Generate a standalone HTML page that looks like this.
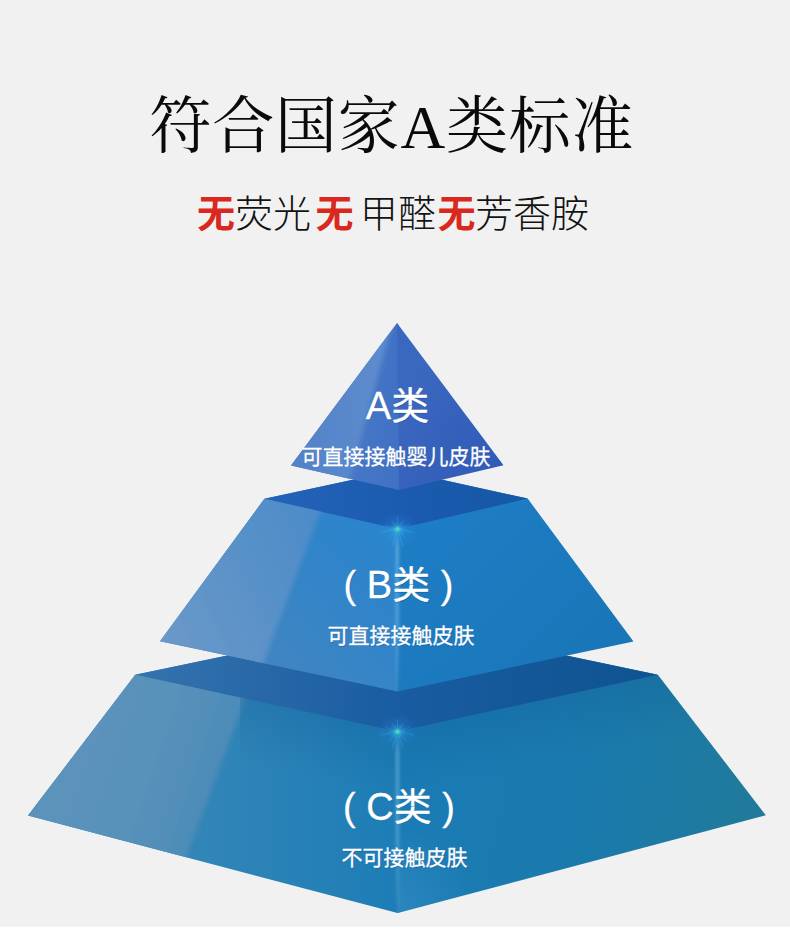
<!DOCTYPE html>
<html lang="zh"><head><meta charset="utf-8"><title>A类标准</title>
<style>
html,body{margin:0;padding:0;background:#f1f1f1;font-family:"Liberation Sans",sans-serif;}
body{width:790px;height:932px;overflow:hidden;position:relative;}
svg{display:block;position:absolute;left:0;top:0;}
</style></head><body>
<svg width="790" height="932" viewBox="0 0 790 932">
<defs>
<linearGradient id="a1" gradientUnits="userSpaceOnUse" x1="350" y1="0" x2="399" y2="0"><stop offset="0" stop-color="#4877c6"/><stop offset="1" stop-color="#4071c4"/></linearGradient>
<linearGradient id="a2" gradientUnits="userSpaceOnUse" x1="398" y1="400" x2="503" y2="465"><stop offset="0" stop-color="#3b68bf"/><stop offset="1" stop-color="#305ab7"/></linearGradient>
<linearGradient id="b0" gradientUnits="userSpaceOnUse" x1="264" y1="499" x2="528" y2="499"><stop offset="0" stop-color="#2463b8"/><stop offset="0.5" stop-color="#1b5bb0"/><stop offset="1" stop-color="#1757a6"/></linearGradient>
<linearGradient id="b1" gradientUnits="userSpaceOnUse" x1="265" y1="660" x2="398" y2="540"><stop offset="0" stop-color="#4185c1"/><stop offset="0.55" stop-color="#3284c8"/><stop offset="1" stop-color="#2a85cd"/></linearGradient>
<linearGradient id="b2" gradientUnits="userSpaceOnUse" x1="398" y1="520" x2="560" y2="690"><stop offset="0" stop-color="#1e7ec6"/><stop offset="1" stop-color="#1976b8"/></linearGradient>
<linearGradient id="c0" gradientUnits="userSpaceOnUse" x1="135" y1="675" x2="658" y2="675"><stop offset="0" stop-color="#3673ae"/><stop offset="0.5" stop-color="#195ca1"/><stop offset="1" stop-color="#0f5390"/></linearGradient>
<linearGradient id="c1" gradientUnits="userSpaceOnUse" x1="200" y1="0" x2="398" y2="0"><stop offset="0" stop-color="#3285b7"/><stop offset="1" stop-color="#1d7db6"/></linearGradient>
<linearGradient id="c2" gradientUnits="userSpaceOnUse" x1="398" y1="740" x2="766" y2="815"><stop offset="0" stop-color="#1a7cb6"/><stop offset="0.55" stop-color="#1b7aac"/><stop offset="1" stop-color="#207a99"/></linearGradient>
<linearGradient id="s1" gradientUnits="userSpaceOnUse" x1="300" y1="0" x2="375" y2="0"><stop offset="0" stop-color="#5382c9"/><stop offset="1" stop-color="#5d8bcd"/></linearGradient>
<linearGradient id="s2" gradientUnits="userSpaceOnUse" x1="165" y1="640" x2="330" y2="560"><stop offset="0" stop-color="#6a98c8"/><stop offset="0.5" stop-color="#5b92c8"/><stop offset="1" stop-color="#4e8cc9"/></linearGradient>
<linearGradient id="s3" gradientUnits="userSpaceOnUse" x1="60" y1="740" x2="220.5" y2="796"><stop offset="0" stop-color="#5c93bb"/><stop offset="0.55" stop-color="#5891ba"/><stop offset="1" stop-color="#4b8bb8"/></linearGradient>
<linearGradient id="ao1" gradientUnits="userSpaceOnUse" x1="266" y1="703" x2="252.3" y2="766"><stop offset="0" stop-color="#0a4c86" stop-opacity=".2"/><stop offset="1" stop-color="#0a4c86" stop-opacity="0"/></linearGradient>
<linearGradient id="ao2" gradientUnits="userSpaceOnUse" x1="528" y1="703" x2="541.7" y2="766"><stop offset="0" stop-color="#0a4c86" stop-opacity=".2"/><stop offset="1" stop-color="#0a4c86" stop-opacity="0"/></linearGradient>
<clipPath id="cp3r"><polygon points="657.8,674.7 397.5,731.6 397.5,913 765.8,815.3"/></clipPath>
<radialGradient id="lr" gradientUnits="userSpaceOnUse" cx="400" cy="905" r="75"><stop offset="0" stop-color="#3c8ec6" stop-opacity=".5"/><stop offset="1" stop-color="#3c8ec6" stop-opacity="0"/></radialGradient>
<filter id="bl2" x="-50%" y="-50%" width="200%" height="200%"><feGaussianBlur stdDeviation="0.5"/></filter>
<clipPath id="cp3"><polygon points="135.2,674.7 397.5,731.6 397.5,913 28,815.5"/></clipPath>
<clipPath id="cp2"><polygon points="264.4,498.7 397.5,529 397.5,691.5 160,641.3"/></clipPath>
<clipPath id="cp1"><polygon points="397,323 399,490 291,465.5"/></clipPath>
<filter id="bl" x="-20%" y="-20%" width="140%" height="140%"><feGaussianBlur stdDeviation="2.4"/></filter>
<radialGradient id="gl"><stop offset="0" stop-color="#5cecc8" stop-opacity="1"/><stop offset="0.09" stop-color="#40d4c4" stop-opacity=".85"/><stop offset="0.2" stop-color="#30b0e8" stop-opacity=".5"/><stop offset="0.45" stop-color="#2a98f0" stop-opacity=".2"/><stop offset="1" stop-color="#2a90f0" stop-opacity="0"/></radialGradient>
<linearGradient id="beam" x1="0" y1="0" x2="0" y2="1"><stop offset="0" stop-color="#a8e0ff" stop-opacity=".1"/><stop offset="0.12" stop-color="#a8e0ff" stop-opacity=".5"/><stop offset="0.6" stop-color="#a8e0ff" stop-opacity=".4"/><stop offset="1" stop-color="#a8e0ff" stop-opacity=".04"/></linearGradient>
</defs>
<rect width="790" height="932" fill="#f1f1f1"/>
<rect y="926.7" width="790" height="6" fill="#ffffff"/>


<polygon points="135.2,674.7 398,620 399,620.2 399,912.6 397.5,913 28,815.5" fill="url(#c1)"/>
<polygon points="657.8,674.7 398,620 397.5,913 765.8,815.3" fill="url(#c2)"/>
<polygon points="135.2,674.7 398,620 657.8,674.7 397.5,731.6" fill="url(#c0)"/>
<g clip-path="url(#cp3)"><polygon filter="url(#bl)" points="120,640 260.1,659.5 178.1,878.3 0,880 0,640" fill="url(#s3)"/></g>
<g clip-path="url(#cp3r)"><rect x="397" y="820" width="90" height="100" fill="url(#lr)"/></g>
<g clip-path="url(#cp3)"><rect x="240" y="670" width="160" height="140" fill="url(#ao1)"/></g>
<g clip-path="url(#cp3r)"><rect x="397" y="670" width="380" height="160" fill="url(#ao2)"/></g>
<polygon points="160,641.3 264.4,498.7 398,470 399,470.2 399,691.2 397.5,691.5" fill="url(#b1)"/>
<polygon points="633.5,641.5 527.7,498.6 398,470 397.5,691.5" fill="url(#b2)"/>
<polygon points="264.4,498.7 398,470 527.7,498.6 397.5,529" fill="url(#b0)"/>
<g clip-path="url(#cp2)"><polygon filter="url(#bl)" points="250,470 335.8,470 255.8,683.3 140,683 140,470" fill="url(#s2)"/></g>
<polygon points="397,323 398.5,325 400.5,489.6 399,490 291,465.5" fill="url(#a1)"/>
<polygon points="397,323 503.5,465.3 399,490" fill="url(#a2)"/>
<g clip-path="url(#cp1)"><polygon filter="url(#bl)" points="394.3,317 280,317 280,500 343.9,500" fill="url(#s1)"/></g>
<rect x="393.50" y="529.0" width="8.0" height="162.0" fill="url(#beam)" opacity="0.14"/>
<rect x="395.00" y="529.0" width="5.0" height="162.0" fill="url(#beam)" opacity="0.2"/>
<rect x="396.30" y="529.0" width="2.4" height="162.0" fill="url(#beam)" opacity="0.26"/>
<path d="M399.5 529.3L414.1 532.5M398.8 530.1L405.5 537.9M398.1 530.4L403.1 546.1M396.9 530.4L391.9 546.1M396.2 530.1L389.5 537.9M395.5 529.3L380.9 532.5M395.6 528.5L385.3 524.6M396.4 527.8L391.8 520.8M397.5 527.5L397.5 517.0M398.6 527.8L403.2 520.8M399.4 528.5L409.7 524.6" stroke="#6fe0e8" stroke-opacity=".22" stroke-width="0.9" fill="none" filter="url(#bl2)"/>
<ellipse cx="397.5" cy="529.0" rx="21" ry="18" fill="url(#gl)"/>
<rect x="393.50" y="731.6" width="8.0" height="181.0" fill="url(#beam)" opacity="0.14"/>
<rect x="395.00" y="731.6" width="5.0" height="181.0" fill="url(#beam)" opacity="0.2"/>
<rect x="396.30" y="731.6" width="2.4" height="181.0" fill="url(#beam)" opacity="0.26"/>
<path d="M399.5 731.9L414.1 735.1M398.8 732.7L405.5 740.5M398.1 733.0L403.1 748.7M396.9 733.0L391.9 748.7M396.2 732.7L389.5 740.5M395.5 731.9L380.9 735.1M395.6 731.1L385.3 727.2M396.4 730.4L391.8 723.4M397.5 730.1L397.5 719.6M398.6 730.4L403.2 723.4M399.4 731.1L409.7 727.2" stroke="#6fe0e8" stroke-opacity=".22" stroke-width="0.9" fill="none" filter="url(#bl2)"/>
<ellipse cx="397.5" cy="731.6" rx="21" ry="18" fill="url(#gl)"/>
<text x="391.5" y="147.8" text-anchor="middle" font-size="62" textLength="484" lengthAdjust="spacing" fill="#0a0a0a" style='font-family:"Liberation Serif","Noto Serif CJK SC",serif;'>符合国家A类标准</text>
<g font-size="38" style='font-family:"Liberation Sans","Noto Sans CJK SC",sans-serif;'>
<text x="197" y="227" fill="#d9281e" font-weight="bold">无</text>
<text x="315.4" y="227" fill="#d9281e" font-weight="bold">无</text>
<text x="437.4" y="227" fill="#d9281e" font-weight="bold">无</text>
<text x="235" y="227" fill="#131313" font-weight="300">荧光</text>
<text x="360" y="227" fill="#131313" font-weight="300">甲醛</text>
<text x="475" y="227" fill="#131313" font-weight="300">芳香胺</text>
</g>
<g fill="#1b4a8c" fill-opacity=".45" transform="translate(0.8 0.8)" text-anchor="middle" style='font-family:"Liberation Sans","Noto Sans CJK SC",sans-serif;'>
<text x="397.5" y="419.2" font-size="38">A类</text>
<text x="396" y="463.7" font-size="21">可直接接触婴儿皮肤</text>
<text x="398.5" y="598.4" font-size="38">( B类 )</text>
<text x="401" y="643.2" font-size="21">可直接接触皮肤</text>
<text x="399" y="819.6" font-size="38">( C类 )</text>
<text x="404.6" y="864.9" font-size="21">不可接触皮肤</text>
</g>
<g fill="#ffffff" stroke="#ffffff" stroke-width=".3" stroke-linejoin="round" text-anchor="middle" style='font-family:"Liberation Sans","Noto Sans CJK SC",sans-serif;'>
<text x="397.5" y="419.2" font-size="38">A类</text>
<text x="396" y="463.7" font-size="21">可直接接触婴儿皮肤</text>
<text x="398.5" y="598.4" font-size="38">( B类 )</text>
<text x="401" y="643.2" font-size="21">可直接接触皮肤</text>
<text x="399" y="819.6" font-size="38">( C类 )</text>
<text x="404.6" y="864.9" font-size="21">不可接触皮肤</text>
</g>
</svg></body></html>
